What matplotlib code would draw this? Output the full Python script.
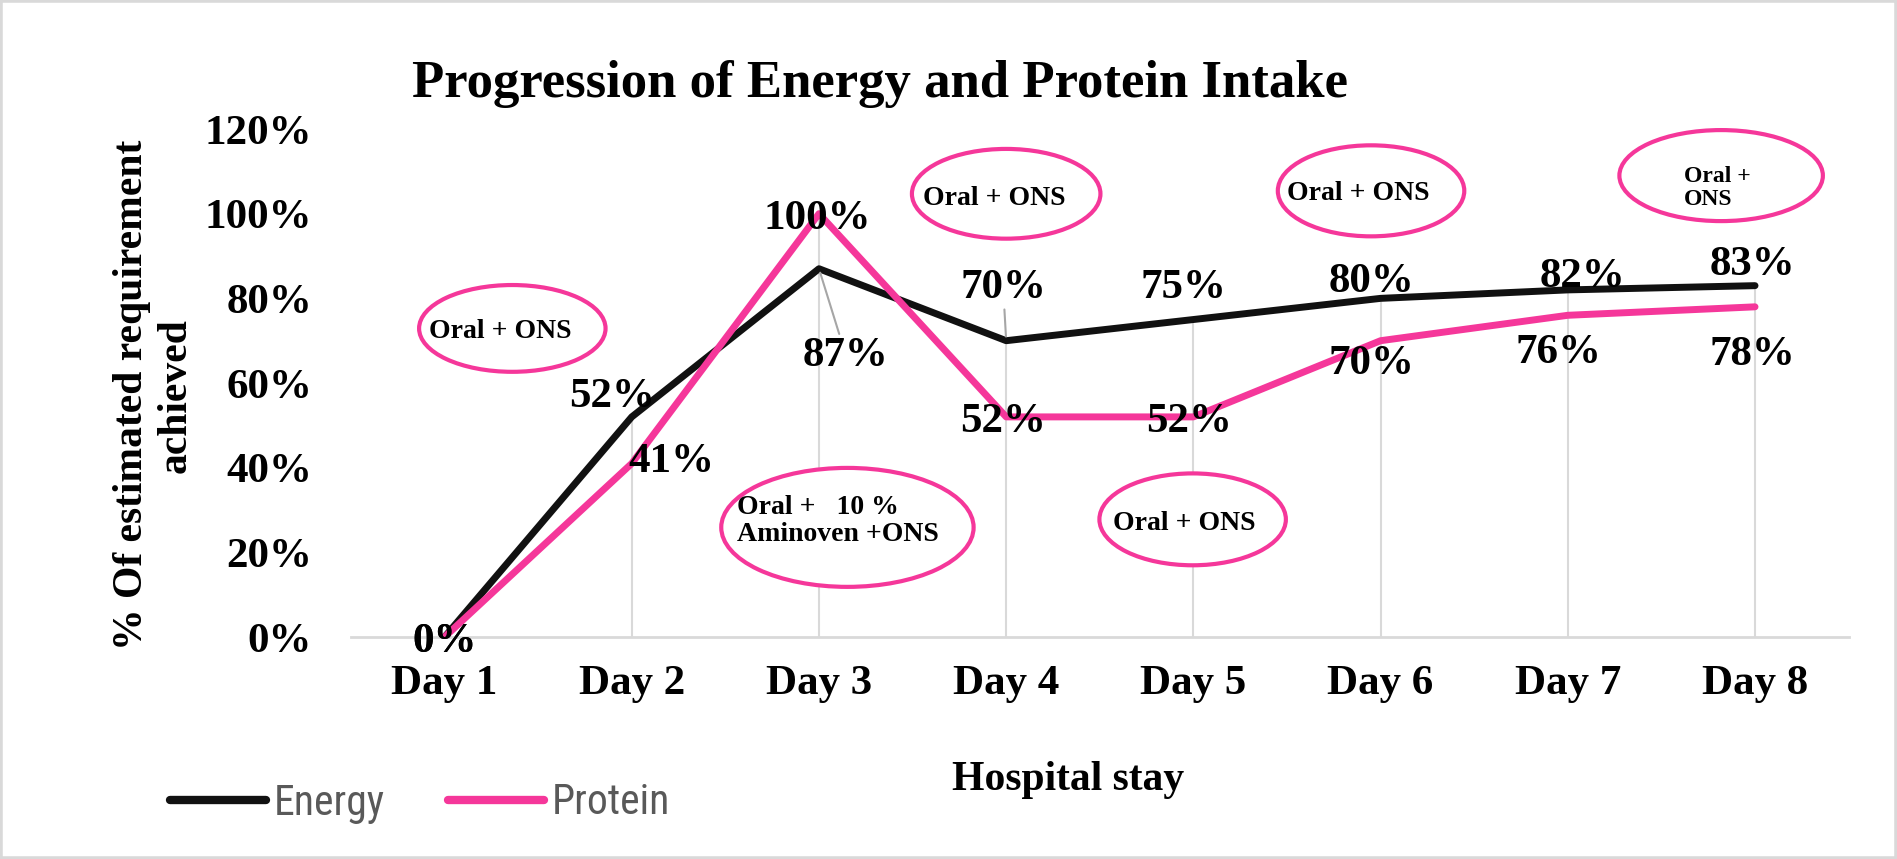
import numpy as np
import matplotlib
matplotlib.use('Agg')
import matplotlib.pyplot as plt
from matplotlib.patches import Ellipse, Rectangle
from matplotlib.lines import Line2D
from matplotlib.ticker import FuncFormatter

plt.rcParams['font.family'] = ['Liberation Serif', 'DejaVu Serif']
plt.rcParams['font.weight'] = 'bold'

# data
days = ['Day 1', 'Day 2', 'Day 3', 'Day 4', 'Day 5', 'Day 6', 'Day 7', 'Day 8']
energy = [0, 52, 87, 70, 75, 80, 82, 83]
protein = [0, 41, 100, 52, 52, 70, 76, 78]

notes = ['Oral + ONS', 'Oral +   10 %\nAminoven +ONS', 'Oral + ONS',
         'Oral + ONS', 'Oral + ONS', 'Oral +\nONS']

# layout of labels / notes (pixels offsets, data coords)
energy_off = [(0, 0), (-20, 25), (27, -82), (-3, 58), (-10, 37), (-9, 21), (15, 18), (-3, 26)]
protein_off = [(0, 0), (40, 6), (-2, 0), (-3, 0), (-4, 0), (-9, -18), (-9, -33), (-3, -43)]
note_ell = [(0.362, 72.9, 0.996, 20.5), (2.152, 25.9, 1.348, 28.1), (3.0, 104.7, 1.007, 21.2),
            (3.996, 27.8, 0.996, 21.7), (4.949, 105.4, 0.996, 21.5), (6.819, 109.0, 1.087, 21.5)]
note_txt = [(-0.085, 72.2, 20), (1.561, 27.4, 20), (2.557, 103.5, 20),
            (3.570, 26.9, 20), (4.502, 104.7, 20), (6.622, 106.1, 17)]
label_shift = -5  # px, text box centre vs. digit centre

BLACK = '#111111'
PINK = '#F5379A'
GRID = '#d9d9d9'

fig = plt.figure(figsize=(18.97, 8.59), dpi=100)
ax = fig.add_axes([0.185, 0.2584, 0.7895, 0.5914])

x = np.arange(len(days))
ax.vlines(x, 0, np.maximum(energy, protein), color=GRID, lw=1.5, zorder=1)
ax.plot(x, energy, color=BLACK, lw=5, solid_capstyle='round', zorder=3, label='Energy')
ax.plot(x, protein, color=PINK, lw=5, solid_capstyle='round', zorder=3, label='Protein')

ax.set_xlim(-0.5, len(days) - 0.5)
ax.set_ylim(0, 120)
ax.set_yticks(range(0, 121, 20))
ax.yaxis.set_major_formatter(FuncFormatter(lambda v, p: f'{v:.0f}%'))
ax.set_xticks(x)
ax.set_xticklabels(days)
ax.tick_params(axis='y', length=0, pad=28, labelsize=31)
ax.tick_params(axis='x', length=0, pad=20, labelsize=31)
for s in ['left', 'right', 'top']:
    ax.spines[s].set_visible(False)
ax.spines['bottom'].set_color(GRID)
ax.spines['bottom'].set_linewidth(2)

# data labels
for i in range(len(days)):
    kw = dict(textcoords='offset pixels', ha='center', va='center', fontsize=31, zorder=5)
    if i == 2 or i == 3:
        kw['arrowprops'] = dict(arrowstyle='-', color='#a6a6a6', lw=1.5, shrinkA=0, shrinkB=3)
    ex, ey = energy_off[i]
    px, py = protein_off[i]
    ax.annotate(f'{energy[i]}%', (x[i], energy[i]), xytext=(ex, ey + label_shift), **kw)
    ax.annotate(f'{protein[i]}%', (x[i], protein[i]), xytext=(px, py + label_shift),
                textcoords='offset pixels', ha='center', va='center', fontsize=31, zorder=5)

# notes in ellipses
for t, (cx, cy, w, h), (tx, ty, fs) in zip(notes, note_ell, note_txt):
    ax.add_patch(Ellipse((cx, cy), w, h, facecolor='white', edgecolor=PINK, lw=3,
                         zorder=4, clip_on=False))
    ax.text(tx, ty, t, fontsize=fs, ha='left', va='center', ma='left', linespacing=1.15,
            zorder=6, clip_on=False)

fig.text(0.464, 0.887, 'Progression of Energy and Protein Intake', fontsize=38,
         ha='center', va='baseline')
fig.text(0.081, 0.540, '% Of estimated requirement\nachieved', fontsize=30, rotation=90,
         ha='center', va='center', ma='center', linespacing=1.2)
fig.text(0.563, 0.092, 'Hospital stay', fontsize=30, ha='center', va='center')

handles = [Line2D([], [], color=BLACK, lw=6, solid_capstyle='round'),
           Line2D([], [], color=PINK, lw=6, solid_capstyle='round')]
fig.legend(handles, ['Energy', 'Protein'], loc='center left',
           bbox_to_anchor=(170 / 1897, 1 - 803 / 859), ncol=2, frameon=False,
           borderpad=0, borderaxespad=0, handlelength=2.3, handletextpad=0.2,
           columnspacing=1.5,
           prop=dict(family=['Liberation Sans Narrow', 'Roboto Condensed', 'Roboto'],
                     weight='normal', size=30),
           labelcolor='#595959')

fig.add_artist(Rectangle((0, 0), 1, 1, transform=fig.transFigure, fill=False,
                         edgecolor=GRID, lw=4))

fig.savefig('out.png', dpi=100)
